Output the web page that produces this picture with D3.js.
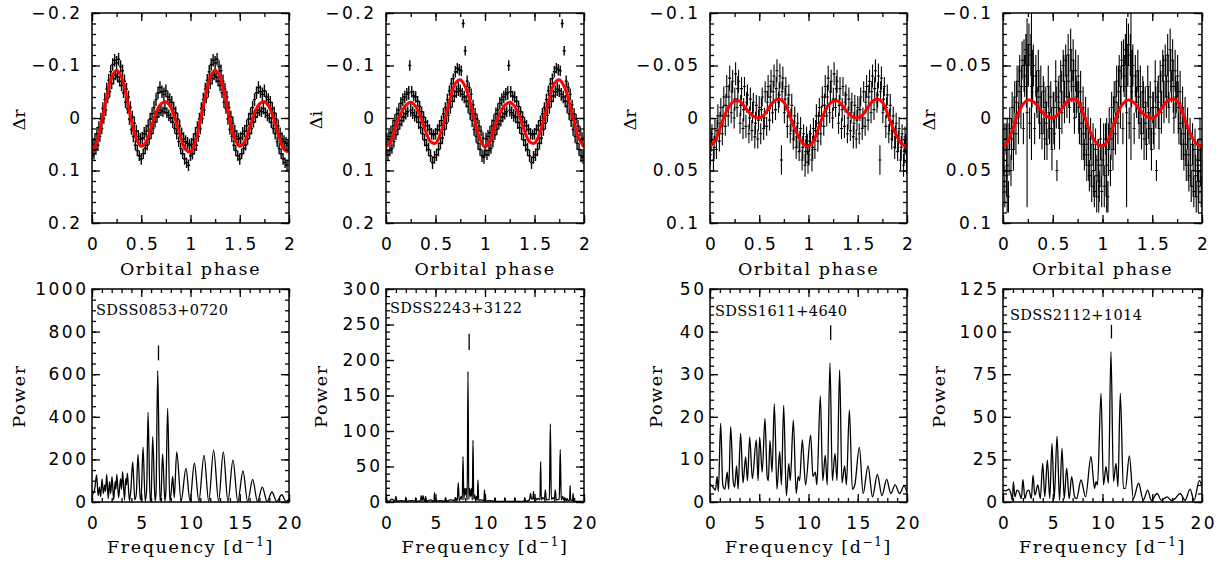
<!DOCTYPE html>
<html>
<head>
<meta charset="utf-8">
<script src="https://cdn.jsdelivr.net/npm/d3@7"></script>
<style>
body { margin: 0; background: #fff; }
svg { display: block; }
.title { font-family: "DejaVu Serif", serif; font-size: 17.5px; letter-spacing: 1.6px; fill: #000; }
.name { font-family: "DejaVu Serif", serif; font-size: 14.5px; letter-spacing: 0.4px; fill: #000; }
</style>
</head>
<body>
<svg id="chart" width="1223" height="565"></svg>
<script>
// ---- tick labels ----
var phaseTicks = [0, 0.5, 1, 1.5, 2];
var freqTicks = [0, 5, 10, 15, 20];
var dmagTicksWide = [-0.2, -0.1, 0, 0.1, 0.2];
var dmagTicksNarrow = [-0.1, -0.05, 0, 0.05, 0.1];
var powerTicks1 = [0, 200, 400, 600, 800, 1000];
var powerTicks2 = [0, 50, 100, 150, 200, 250, 300];
var powerTicks3 = [0, 10, 20, 30, 40, 50];
var powerTicks4 = [0, 25, 50, 75, 100, 125];

var starNames = ["SDSS0853+0720", "SDSS2243+3122", "SDSS1611+4640", "SDSS2112+1014"];
var bandLabels = ["\u0394r", "\u0394i", "\u0394r", "\u0394r"];

// ---- fitted light curve (one cycle, plotted twice) ----
var modelPhase = [0, 0.05, 0.1, 0.15, 0.2, 0.25, 0.3, 0.35, 0.4, 0.45, 0.5, 0.55, 0.6, 0.65, 0.7, 0.75, 0.8, 0.85, 0.9, 0.95, 1];
var model1 = [0.065, 0.045, 0.005, -0.040, -0.078, -0.091, -0.078, -0.040, 0.005, 0.040, 0.054, 0.045, 0.018, -0.010, -0.027, -0.031, -0.020, 0.005, 0.037, 0.060, 0.065];
var model2 = [0.055, 0.045, 0.015, -0.008, -0.024, -0.030, -0.022, -0.002, 0.025, 0.045, 0.048, 0.030, -0.002, -0.038, -0.066, -0.073, -0.060, -0.030, 0.008, 0.040, 0.055];
var model3 = [0.027, 0.022, 0.010, -0.003, -0.012, -0.016, -0.016, -0.011, -0.005, -0.001, 0.000, -0.003, -0.010, -0.016, -0.018, -0.015, -0.005, 0.008, 0.018, 0.025, 0.027];
var model4 = [0.027, 0.022, 0.010, -0.004, -0.013, -0.017, -0.016, -0.011, -0.005, -0.001, 0.000, -0.003, -0.010, -0.016, -0.018, -0.016, -0.006, 0.007, 0.018, 0.025, 0.027];

// ---- phase folded photometry [phase, dmag, error] (one cycle) ----
var lc1 = [
  [0.000,0.072,0.010],[0.010,0.050,0.012],[0.020,0.068,0.011],[0.030,0.041,0.012],[0.040,0.060,0.010],
  [0.050,0.030,0.013],[0.060,0.052,0.011],[0.070,0.018,0.012],[0.080,0.035,0.010],[0.090,0.002,0.012],
  [0.100,0.020,0.011],[0.110,-0.018,0.012],[0.120,0.001,0.010],[0.130,-0.035,0.013],[0.140,-0.015,0.011],
  [0.150,-0.055,0.012],[0.160,-0.038,0.010],[0.170,-0.072,0.012],[0.180,-0.050,0.011],[0.190,-0.088,0.013],
  [0.200,-0.065,0.010],[0.210,-0.102,0.012],[0.220,-0.075,0.011],[0.230,-0.110,0.012],[0.240,-0.082,0.010],
  [0.250,-0.105,0.013],[0.260,-0.078,0.011],[0.270,-0.112,0.012],[0.280,-0.070,0.010],[0.290,-0.098,0.012],
  [0.300,-0.062,0.011],[0.310,-0.090,0.012],[0.320,-0.048,0.010],[0.330,-0.070,0.013],[0.340,-0.030,0.011],
  [0.350,-0.055,0.012],[0.360,-0.018,0.010],[0.370,-0.040,0.012],[0.380,0.002,0.011],[0.390,-0.020,0.012],
  [0.400,0.022,0.010],[0.410,-0.002,0.012],[0.420,0.035,0.011],[0.430,0.010,0.013],[0.440,0.052,0.010],
  [0.450,0.025,0.012],[0.460,0.062,0.011],[0.470,0.035,0.012],[0.480,0.072,0.010],[0.490,0.040,0.012],
  [0.500,0.078,0.011],[0.510,0.038,0.012],[0.520,0.068,0.010],[0.530,0.030,0.013],[0.540,0.058,0.011],
  [0.550,0.025,0.012],[0.560,0.052,0.010],[0.570,0.015,0.012],[0.580,0.040,0.011],[0.590,0.002,0.012],
  [0.600,0.030,0.010],[0.610,-0.008,0.012],[0.620,0.020,0.011],[0.630,-0.020,0.013],[0.640,0.008,0.010],
  [0.650,-0.035,0.012],[0.660,-0.002,0.011],[0.670,-0.048,0.012],[0.680,-0.010,0.010],[0.690,-0.058,0.012],
  [0.700,-0.015,0.011],[0.710,-0.050,0.012],[0.720,-0.012,0.010],[0.730,-0.045,0.013],[0.740,-0.018,0.011],
  [0.750,-0.052,0.012],[0.760,-0.010,0.010],[0.770,-0.040,0.012],[0.780,-0.005,0.011],[0.790,-0.035,0.012],
  [0.800,0.000,0.010],[0.810,-0.030,0.012],[0.820,0.008,0.011],[0.830,-0.018,0.013],[0.840,0.020,0.010],
  [0.850,-0.010,0.012],[0.860,0.030,0.011],[0.870,0.002,0.012],[0.880,0.045,0.010],[0.890,0.015,0.012],
  [0.900,0.058,0.011],[0.910,0.030,0.012],[0.920,0.068,0.010],[0.930,0.040,0.013],[0.940,0.078,0.011],
  [0.950,0.045,0.012],[0.960,0.085,0.010],[0.970,0.048,0.012],[0.980,0.090,0.011],[0.990,0.052,0.012]
];
var lc2 = [
  [0.000,0.062,0.011],[0.010,0.040,0.012],[0.020,0.070,0.010],[0.030,0.035,0.012],[0.040,0.062,0.011],
  [0.050,0.028,0.013],[0.060,0.058,0.010],[0.070,0.015,0.012],[0.080,0.045,0.011],[0.090,0.005,0.012],
  [0.100,0.032,0.010],[0.110,-0.008,0.012],[0.120,0.022,0.011],[0.130,-0.015,0.013],[0.140,0.012,0.010],
  [0.150,-0.028,0.012],[0.160,0.005,0.011],[0.170,-0.035,0.012],[0.180,-0.002,0.010],[0.190,-0.040,0.012],
  [0.200,-0.008,0.011],[0.210,-0.045,0.012],[0.220,-0.012,0.010],[0.230,-0.048,0.013],[0.240,-0.100,0.010],
  [0.250,-0.015,0.012],[0.260,-0.050,0.011],[0.270,-0.010,0.012],[0.280,-0.042,0.010],[0.290,-0.005,0.012],
  [0.300,-0.040,0.011],[0.310,-0.002,0.012],[0.320,-0.032,0.010],[0.330,0.008,0.013],[0.340,-0.022,0.011],
  [0.350,0.018,0.012],[0.360,-0.012,0.010],[0.370,0.030,0.012],[0.380,-0.002,0.011],[0.390,0.042,0.012],
  [0.400,0.008,0.010],[0.410,0.052,0.012],[0.420,0.015,0.011],[0.430,0.060,0.013],[0.440,0.022,0.010],
  [0.450,0.072,0.012],[0.460,0.030,0.011],[0.470,0.085,0.012],[0.480,0.032,0.010],[0.490,0.075,0.012],
  [0.500,0.030,0.011],[0.510,0.070,0.012],[0.520,0.022,0.010],[0.530,0.060,0.013],[0.540,0.015,0.011],
  [0.550,0.048,0.012],[0.560,0.005,0.010],[0.570,0.038,0.012],[0.580,-0.008,0.011],[0.590,0.022,0.012],
  [0.600,-0.020,0.010],[0.610,0.010,0.012],[0.620,-0.035,0.011],[0.630,-0.005,0.013],[0.640,-0.052,0.010],
  [0.650,-0.020,0.012],[0.660,-0.065,0.011],[0.670,-0.032,0.012],[0.680,-0.075,0.010],[0.690,-0.042,0.012],
  [0.700,-0.088,0.011],[0.710,-0.050,0.012],[0.720,-0.095,0.010],[0.730,-0.055,0.013],[0.740,-0.092,0.011],
  [0.750,-0.052,0.012],[0.760,-0.090,0.010],[0.770,-0.045,0.012],[0.780,-0.180,0.008],[0.790,-0.040,0.012],
  [0.800,-0.128,0.009],[0.810,-0.032,0.012],[0.820,-0.070,0.011],[0.830,-0.022,0.013],[0.840,-0.058,0.010],
  [0.850,-0.008,0.012],[0.860,-0.045,0.011],[0.870,0.005,0.012],[0.880,-0.025,0.010],[0.890,0.022,0.012],
  [0.900,-0.008,0.011],[0.910,0.035,0.012],[0.920,0.002,0.010],[0.930,0.048,0.013],[0.940,0.015,0.011],
  [0.950,0.060,0.012],[0.960,0.025,0.010],[0.970,0.072,0.012],[0.980,0.038,0.011],[0.990,0.075,0.012]
];
var lc3 = [
  [0.005,0.035,0.010],[0.020,0.015,0.009],[0.035,0.040,0.011],[0.050,0.010,0.010],[0.065,0.030,0.009],
  [0.080,-0.002,0.011],[0.095,0.022,0.010],[0.110,-0.010,0.009],[0.125,0.015,0.011],[0.140,-0.020,0.010],
  [0.155,0.008,0.009],[0.170,-0.030,0.011],[0.185,-0.002,0.010],[0.200,-0.038,0.012],[0.215,-0.005,0.010],
  [0.230,-0.035,0.011],[0.245,0.000,0.010],[0.260,-0.042,0.011],[0.275,-0.010,0.009],[0.290,-0.035,0.011],
  [0.305,0.005,0.010],[0.320,-0.028,0.011],[0.335,0.010,0.010],[0.350,-0.030,0.009],[0.365,0.008,0.011],
  [0.380,-0.022,0.010],[0.395,0.015,0.009],[0.410,-0.018,0.011],[0.425,0.012,0.010],[0.440,-0.015,0.009],
  [0.455,0.018,0.011],[0.470,-0.012,0.010],[0.485,0.020,0.009],[0.500,-0.010,0.011],[0.515,0.015,0.010],
  [0.530,-0.020,0.009],[0.545,0.010,0.011],[0.560,-0.025,0.010],[0.575,0.008,0.009],[0.590,-0.030,0.011],
  [0.605,0.002,0.010],[0.620,-0.035,0.011],[0.635,-0.005,0.010],[0.650,-0.040,0.011],[0.665,-0.008,0.010],
  [0.680,-0.045,0.011],[0.695,-0.015,0.010],[0.710,-0.040,0.012],[0.725,0.040,0.014],[0.740,-0.038,0.011],
  [0.755,-0.005,0.010],[0.770,-0.030,0.009],[0.785,0.008,0.011],[0.800,-0.022,0.010],[0.815,0.015,0.009],
  [0.830,-0.012,0.011],[0.845,0.020,0.010],[0.860,-0.002,0.009],[0.875,0.028,0.011],[0.890,0.005,0.010],
  [0.905,0.032,0.009],[0.920,0.010,0.011],[0.935,0.040,0.010],[0.950,0.015,0.009],[0.965,0.045,0.011],
  [0.980,0.018,0.010],[0.995,0.042,0.011],
  [0.012,0.022,0.010],[0.042,0.028,0.011],[0.072,0.012,0.010],[0.102,0.005,0.011],[0.132,-0.002,0.010],
  [0.162,-0.012,0.011],[0.192,-0.020,0.012],[0.222,-0.025,0.010],[0.252,-0.018,0.011],[0.282,-0.028,0.012],
  [0.312,-0.012,0.010],[0.342,-0.008,0.011],[0.372,-0.015,0.010],[0.402,0.000,0.011],[0.432,-0.005,0.010],
  [0.462,0.005,0.011],[0.492,0.002,0.010],[0.522,-0.008,0.011],[0.552,0.000,0.010],[0.582,-0.015,0.011],
  [0.612,-0.020,0.012],[0.642,-0.025,0.010],[0.672,-0.028,0.011],[0.702,-0.022,0.012],[0.732,-0.025,0.010],
  [0.762,-0.018,0.011],[0.792,-0.010,0.010],[0.822,0.002,0.011],[0.852,0.012,0.010],[0.882,0.018,0.011],
  [0.912,0.022,0.010],[0.942,0.028,0.011],[0.972,0.032,0.012],[0.988,0.025,0.010]
];
var lc4 = [
  [0.005,0.040,0.015],[0.018,0.065,0.020],[0.030,0.020,0.015],[0.042,0.045,0.045],[0.055,0.075,0.015],
  [0.068,0.010,0.020],[0.080,0.050,0.015],[0.092,-0.010,0.015],[0.105,0.030,0.020],[0.118,-0.020,0.015],
  [0.130,0.015,0.020],[0.142,-0.035,0.015],[0.155,0.005,0.020],[0.168,-0.045,0.015],[0.180,-0.010,0.020],
  [0.192,-0.055,0.018],[0.205,0.010,0.015],[0.218,-0.040,0.020],[0.230,-0.065,0.015],[0.242,-0.005,0.090],
  [0.255,-0.050,0.020],[0.268,0.005,0.015],[0.280,-0.060,0.020],[0.286,-0.030,0.070],[0.292,-0.025,0.015],
  [0.305,-0.050,0.020],[0.318,0.010,0.015],[0.330,-0.040,0.020],[0.342,-0.015,0.015],[0.355,-0.045,0.020],
  [0.368,0.005,0.015],[0.380,-0.030,0.020],[0.392,0.015,0.015],[0.405,-0.025,0.015],[0.418,0.020,0.020],
  [0.430,-0.015,0.015],[0.442,0.025,0.015],[0.455,-0.030,0.020],[0.468,0.010,0.015],[0.480,-0.020,0.015],
  [0.492,0.030,0.020],[0.505,-0.010,0.015],[0.518,0.015,0.015],[0.530,-0.035,0.020],[0.542,0.050,0.010],
  [0.555,-0.020,0.015],[0.568,0.010,0.020],[0.580,-0.040,0.015],[0.592,-0.005,0.020],[0.605,-0.050,0.015],
  [0.618,-0.015,0.020],[0.630,-0.055,0.015],[0.642,-0.020,0.020],[0.655,-0.060,0.020],[0.668,-0.010,0.015],
  [0.680,-0.065,0.020],[0.692,-0.030,0.015],[0.705,-0.055,0.020],[0.718,0.000,0.015],[0.730,-0.045,0.020],
  [0.742,-0.020,0.015],[0.755,-0.040,0.020],[0.768,0.010,0.015],[0.780,-0.025,0.020],[0.792,0.025,0.015],
  [0.805,-0.010,0.020],[0.818,0.035,0.015],[0.830,0.000,0.020],[0.842,0.045,0.015],[0.855,0.010,0.020],
  [0.868,0.055,0.015],[0.880,0.020,0.020],[0.892,0.065,0.015],[0.905,0.025,0.020],[0.918,0.070,0.015],
  [0.930,0.030,0.020],[0.942,0.075,0.015],[0.955,0.040,0.020],[0.962,0.060,0.030],[0.968,0.065,0.015],
  [0.980,0.020,0.020],[0.992,0.070,0.015],
  [0.011,0.025,0.020],[0.036,0.055,0.020],[0.061,0.030,0.025],[0.086,0.020,0.020],[0.111,0.005,0.025],
  [0.136,-0.015,0.020],[0.161,-0.025,0.025],[0.186,-0.030,0.020],[0.211,-0.050,0.025],[0.236,-0.030,0.020],
  [0.261,-0.070,0.020],[0.298,-0.040,0.025],[0.336,-0.025,0.020],[0.361,-0.020,0.025],[0.386,-0.005,0.020],
  [0.411,-0.010,0.025],[0.436,0.005,0.020],[0.461,-0.005,0.025],[0.486,0.010,0.020],[0.511,0.000,0.025],
  [0.536,-0.010,0.020],[0.561,-0.015,0.025],[0.586,-0.025,0.020],[0.611,-0.035,0.025],[0.636,-0.040,0.020],
  [0.661,-0.035,0.025],[0.686,-0.045,0.020],[0.711,-0.030,0.025],[0.736,-0.020,0.020],[0.761,-0.010,0.025],
  [0.786,0.005,0.020],[0.811,0.015,0.025],[0.836,0.025,0.020],[0.861,0.035,0.025],[0.886,0.045,0.020],
  [0.911,0.050,0.025],[0.936,0.055,0.020],[0.961,0.045,0.025],[0.986,0.045,0.020]
];

// ---- periodograms [frequency d^-1, power] ----
var spec1 = [
  [0,55],[0.15,40],[0.3,70],[0.47,127],[0.62,30],[0.75,70],[0.88,25],[1.02,108],[1.15,40],[1.3,80],
  [1.38,50],[1.49,130],[1.65,15],[1.78,95],[1.9,40],[2.03,119],[2.2,10],[2.35,95],[2.42,60],[2.52,130],
  [2.7,20],[2.9,110],[3.0,60],[3.11,142],[3.3,10],[3.42,110],[3.5,80],[3.59,135],[3.8,5],[3.95,60],
  [4.13,188],[4.35,10],[4.5,40],[4.67,224],[4.9,10],[5.0,30],[5.18,257],[5.4,5],[5.55,60],[5.69,421],
  [5.9,5],[6.0,20],[6.16,307],[6.4,5],[6.5,40],[6.67,617],[6.9,5],[7.0,25],[7.17,226],[7.4,5],
  [7.5,50],[7.68,440],[7.9,5],[8.05,50],[8.19,120],[8.35,20],[8.6,235],[9.05,5],[9.54,158],[9.95,5],
  [10.39,182],[10.85,3],[11.37,219],[11.85,3],[12.35,244],[12.85,3],[13.33,235],[13.8,3],[14.31,197],[14.8,2],
  [15.33,146],[15.8,2],[16.31,106],[16.8,2],[17.29,70],[17.78,2],[18.27,47],[18.75,2],[19.26,34],[19.7,2],[20,15]
];
var spec2 = [
  [0,3],[0.3,1],[0.6,4],[0.9,1],[1.0,8],[1.1,1],[1.5,2],[1.95,1],[2.0,7],[2.05,1],[2.6,2],[2.95,1],[3.0,6],[3.05,1],
  [3.5,2],[3.55,9],[3.65,2],[3.75,9],[3.85,2],[3.95,1],[4.0,8],[4.05,1],[4.5,3],[4.85,1],[4.9,13],[4.95,1],
  [5.5,2],[5.95,1],[6.0,6],[6.05,1],[6.5,3],[6.9,2],[7.0,6],[7.2,2],[7.3,27],[7.4,2],[7.6,8],[7.7,3],
  [7.78,64],[7.86,3],[7.95,19],[8.0,10],[8.1,19],[8.2,3],[8.28,184],[8.36,4],[8.45,19],[8.55,8],[8.65,19],
  [8.72,3],[8.79,87],[8.86,4],[8.95,10],[9.05,3],[9.15,8],[9.22,2],[9.29,31],[9.36,2],[9.5,3],[9.9,2],
  [9.95,17],[10.0,1],[10.5,2],[10.95,1],[11.0,6],[11.05,1],[11.95,1],[12.0,6],[12.05,1],[12.95,1],[13.0,6],
  [13.05,1],[13.95,1],[14.0,6],[14.05,1],[14.5,3],[14.6,12],[14.7,4],[14.85,5],[14.9,15],[14.95,4],[15.1,6],
  [15.2,3],[15.35,5],[15.55,3],[15.62,57],[15.69,3],[15.85,6],[16.0,4],[16.1,17],[16.2,3],[16.5,4],[16.6,110],
  [16.7,4],[16.9,6],[17.0,4],[17.1,17],[17.2,3],[17.5,4],[17.6,74],[17.7,3],[17.85,8],[17.95,3],[18.05,6],
  [18.2,2],[18.3,5],[18.4,2],[18.55,3],[18.6,23],[18.65,3],[18.85,2],[18.9,12],[18.95,1],[19.3,1],[19.7,1],[20,1]
];
var spec3 = [
  [0,4.2],[0.3,3.5],[0.55,2.8],[0.72,6],[0.85,2.5],[1.08,18.5],[1.3,4],[1.5,3],[1.75,7],[1.9,3],
  [2.1,17.7],[2.35,5],[2.5,3.5],[2.7,8.5],[2.85,3],[3.11,16.1],[3.35,4.5],[3.62,10.6],[3.8,5],[4.03,15.2],
  [4.3,5.5],[4.7,14.6],[4.88,5],[5.04,15.2],[5.3,7],[5.58,19.6],[5.8,6],[5.92,5],[6.09,14.4],[6.3,7],
  [6.53,23],[6.8,3],[7.07,11.8],[7.25,4],[7.48,22.7],[7.75,1.5],[8.0,9],[8.15,5],[8.46,19.2],[8.75,2],
  [8.95,6],[9.1,5],[9.37,14.6],[9.7,4],[10.22,15.7],[10.45,6],[10.7,7],[10.85,4],[11.2,24.9],[11.45,5],
  [11.7,11],[11.9,4],[12.18,32.6],[12.42,5],[12.69,11.4],[12.9,5],[13.16,31],[13.4,4.5],[13.67,8.5],[13.85,4],
  [14.15,21.6],[14.45,3],[14.7,4],[15.16,12.8],[15.55,2],[16.04,8.5],[16.5,1.2],[16.99,6.5],[17.45,1.5],[17.94,5.3],
  [18.35,2],[18.8,4],[19.25,2],[19.7,3.8],[20,2.2]
];
var spec4 = [
  [0,7],[0.3,6.5],[0.6,7.5],[0.8,5],[0.95,1],[1.04,12],[1.2,3],[1.4,7],[1.6,6],[1.85,2],
  [2.0,13.3],[2.2,2],[2.4,6],[2.6,7],[2.85,2],[3.02,15.8],[3.2,4],[3.5,10],[3.75,2],[3.99,22.7],
  [4.2,3],[4.46,24.6],[4.7,2],[4.92,34.4],[5.15,2],[5.43,38.7],[5.68,1],[5.93,31.5],[6.15,2],[6.4,19.8],
  [6.65,2],[6.9,14.9],[7.2,3],[7.4,2],[7.84,12.9],[8.3,3],[8.84,26.6],[9.2,8],[9.35,12],[9.5,10],
  [9.85,63.8],[10.1,10],[10.35,20.7],[10.6,11],[10.85,88.2],[11.1,12],[11.36,22.7],[11.55,9],[11.79,63.8],[12.1,8],
  [12.3,8],[12.7,27],[13.1,2],[13.63,11],[14.1,1],[14.54,7],[14.9,1],[15.5,5],[15.9,1],[16.5,3],
  [16.9,1],[17.3,2],[17.8,5],[18.3,1],[18.8,7.5],[19.2,1],[19.73,12.5],[20,9]
];
// orbital frequency markers [frequency, power from, power to]
var peakMarks = [[6.75, 665, 735], [8.4, 214, 237], [12.25, 38, 41.5], [10.9, 96, 104]];

// ---- layout ----
var svg = d3.select("#chart");
var cols = [[92, 289], [386, 584], [710, 907], [1003, 1202]];
var topRow = [13, 223], botRow = [289, 502];
var dmagTitleOff = [67, 64, 74, 68];
var powerTitleOff = [67, 59, 48, 58];
var nameOff = [[4, 26], [4, 24], [5, 27], [7, 31]];
var barWidth = [1.4, 1.4, 1.1, 1.1];
var tickLS = 2.5;

var lcSets = [lc1, lc2, lc3, lc4];
var models = [model1, model2, model3, model4];
var specs = [spec1, spec2, spec3, spec4];
var dmagTicks = [dmagTicksWide, dmagTicksWide, dmagTicksNarrow, dmagTicksNarrow];
var dmagMinor = [0.02, 0.02, 0.01, 0.01];
var powerTicks = [powerTicks1, powerTicks2, powerTicks3, powerTicks4];
var powerMinor = [50, 10, 2, 5];

var fmt = function(d) { return d < 0 ? "\u2212" + Math.abs(d) : String(d); };

function minorTicks(lo, hi, step) {
  var n = Math.round((hi - lo) / step);
  return d3.range(n + 1).map(function(i) { return lo + i * step; });
}

// frame with inward ticks on all four sides
function drawFrame(g, xs, ys, w, h, xMaj, xMin, yMaj, yMin, yGap) {
  var axes = [
    [d3.axisBottom(xs).tickValues(xMaj).tickSize(-8).tickPadding(15).tickFormat(fmt), "translate(0," + h + ")"],
    [d3.axisBottom(xs).tickValues(xMin).tickSize(-4).tickFormat(""), "translate(0," + h + ")"],
    [d3.axisTop(xs).tickValues(xMaj).tickSize(-8).tickFormat(""), null],
    [d3.axisTop(xs).tickValues(xMin).tickSize(-4).tickFormat(""), null],
    [d3.axisLeft(ys).tickValues(yMaj).tickSize(-8).tickPadding(yGap - tickLS).tickFormat(fmt), null],
    [d3.axisLeft(ys).tickValues(yMin).tickSize(-4).tickFormat(""), null],
    [d3.axisRight(ys).tickValues(yMaj).tickSize(-8).tickFormat(""), "translate(" + w + ",0)"],
    [d3.axisRight(ys).tickValues(yMin).tickSize(-4).tickFormat(""), "translate(" + w + ",0)"]
  ];
  axes.forEach(function(a, i) {
    var ag = g.append("g");
    if (a[1]) ag.attr("transform", a[1]);
    ag.call(a[0]);
    ag.select(".domain").remove();
    ag.selectAll("line").attr("stroke", "#000").attr("stroke-width", 1.3);
    ag.selectAll("text")
      .style("font-family", "'DejaVu Sans', sans-serif")
      .style("font-size", "17px")
      .style("letter-spacing", tickLS + "px")
      .style("fill", "#000");
    if (i === 0) ag.selectAll("text").attr("dx", tickLS / 2);
  });
  g.append("rect").attr("width", w).attr("height", h)
    .attr("fill", "none").attr("stroke", "#000").attr("stroke-width", 1.5);
}

function clipFor(g, id, w, h) {
  svg.append("clipPath").attr("id", id).append("rect").attr("width", w).attr("height", h);
  return g.append("g").attr("clip-path", "url(#" + id + ")");
}

for (var k = 0; k < 4; k++) {
  var x0 = cols[k][0], w = cols[k][1] - cols[k][0];

  // ---------- light curve ----------
  var h = topRow[1] - topRow[0];
  var gT = svg.append("g").attr("transform", "translate(" + x0 + "," + topRow[0] + ")");
  var lim = dmagTicks[k][dmagTicks[k].length - 1];
  var xPh = d3.scaleLinear().domain([0, 2]).range([0, w]);
  var yDm = d3.scaleLinear().domain([-lim, lim]).range([0, h]);

  var cT = clipFor(gT, "clipT" + k, w, h);
  var d = "";
  [0, 1].forEach(function(cyc) {
    lcSets[k].forEach(function(p) {
      var px = xPh(p[0] + cyc);
      d += "M" + px + "," + yDm(p[1] - p[2]) + "V" + yDm(p[1] + p[2]);
      d += "M" + (px - 1.5) + "," + yDm(p[1]) + "H" + (px + 1.5);
    });
  });
  cT.append("path").attr("d", d).attr("fill", "none")
    .attr("stroke", "#000").attr("stroke-width", barWidth[k]);

  var mpts = [];
  [0, 1].forEach(function(cyc) {
    modelPhase.forEach(function(ph, i) {
      if (cyc === 1 && i === 0) return;
      mpts.push([ph + cyc, models[k][i]]);
    });
  });
  cT.append("path").datum(mpts)
    .attr("d", d3.line().x(function(p) { return xPh(p[0]); }).y(function(p) { return yDm(p[1]); })
      .curve(d3.curveCatmullRom))
    .attr("fill", "none").attr("stroke", "#ff0000").attr("stroke-width", 3);

  drawFrame(gT, xPh, yDm, w, h, phaseTicks, minorTicks(0, 2, 0.25),
    dmagTicks[k], minorTicks(-lim, lim, dmagMinor[k]), 12);

  gT.append("text").attr("class", "title").attr("text-anchor", "middle")
    .attr("x", w / 2).attr("y", 275 - topRow[0]).text("Orbital phase");
  gT.append("text").attr("class", "title").style("letter-spacing", "0px").attr("text-anchor", "middle")
    .attr("transform", "translate(" + (-dmagTitleOff[k]) + "," + (120 - topRow[0]) + ") rotate(-90)")
    .text(bandLabels[k]);

  // ---------- periodogram ----------
  var hb = botRow[1] - botRow[0];
  var gB = svg.append("g").attr("transform", "translate(" + x0 + "," + botRow[0] + ")");
  var pt = powerTicks[k];
  var xF = d3.scaleLinear().domain([0, 20]).range([0, w]);
  var yP = d3.scaleLinear().domain([0, pt[pt.length - 1]]).range([hb, 0]);

  var cB = clipFor(gB, "clipB" + k, w, hb);
  cB.append("path").datum(specs[k])
    .attr("d", d3.line().x(function(p) { return xF(p[0]); }).y(function(p) { return yP(p[1]); })
      .curve(d3.curveMonotoneX))
    .attr("fill", "none").attr("stroke", "#000").attr("stroke-width", 1.3);

  var m = peakMarks[k];
  gB.append("line").attr("x1", xF(m[0])).attr("x2", xF(m[0]))
    .attr("y1", yP(m[1])).attr("y2", yP(m[2])).attr("stroke", "#000").attr("stroke-width", 1.3);

  drawFrame(gB, xF, yP, w, hb, freqTicks, minorTicks(0, 20, 1),
    pt, minorTicks(0, pt[pt.length - 1], powerMinor[k]), 6);

  gB.append("text").attr("class", "name").attr("x", nameOff[k][0]).attr("y", nameOff[k][1]).text(starNames[k]);

  var ft = gB.append("text").attr("class", "title").attr("text-anchor", "middle")
    .attr("x", w / 2).attr("y", 553 - botRow[0]);
  ft.append("tspan").text("Frequency [d");
  ft.append("tspan").attr("dy", -7).style("font-size", "12px").text("\u22121");
  ft.append("tspan").attr("dy", 7).text("]");

  gB.append("text").attr("class", "title").attr("text-anchor", "middle")
    .attr("transform", "translate(" + (-powerTitleOff[k]) + "," + (396 - botRow[0]) + ") rotate(-90)")
    .text("Power");
}
</script>
</body>
</html>
